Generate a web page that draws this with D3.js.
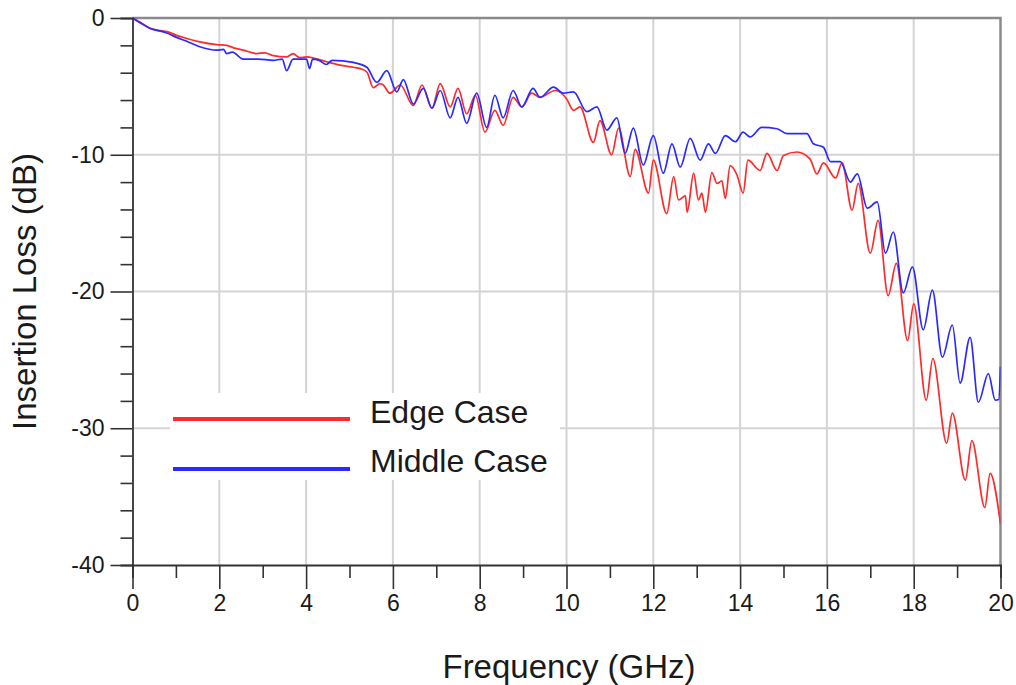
<!DOCTYPE html>
<html><head><meta charset="utf-8">
<script src="https://cdn.jsdelivr.net/npm/d3@7"></script>
<style>
html,body{margin:0;padding:0;background:#fff;}
svg{display:block;font-family:"Liberation Sans",Arial,sans-serif;}
</style></head>
<body>
<svg id="chart" width="1016" height="685"></svg>
<script>
// ---- data ----
const xTicks = [0,2,4,6,8,10,12,14,16,18,20];
const yTicks = [0,-10,-20,-30,-40];
const seriesNames = ["Edge Case","Middle Case"];
const seriesColors = ["#ff2a2a","#2a2aff"];

const edgeFreq = [0,0.2,0.4,0.6,0.8,1.0,1.25,1.55,1.94,2.17,2.35,2.55,2.86,3.05,3.24,3.55,3.7,3.85,4.01,4.2,4.47,4.78,5.09,5.25,5.4,5.55,5.7,5.78,5.93,6.17,6.47,6.67,6.9,7.09,7.32,7.5,7.7,7.9,8.12,8.35,8.54,8.77,8.97,9.2,9.39,9.74,10.0,10.16,10.31,10.62,10.77,11.04,11.2,11.47,11.58,11.89,12.0,12.31,12.47,12.58,12.74,12.78,12.93,13.04,13.12,13.2,13.35,13.47,13.58,13.66,13.77,13.93,14.07,14.18,14.46,14.62,14.85,15.0,15.31,15.61,15.77,15.92,16.2,16.35,16.58,16.72,17.0,17.18,17.41,17.6,17.86,18.0,18.29,18.44,18.76,18.89,19.19,19.34,19.64,19.76,20.0];
const edgeLoss = [0,-0.35,-0.75,-0.9,-1.0,-1.25,-1.5,-1.75,-1.95,-2.0,-2.2,-2.35,-2.6,-2.55,-2.75,-2.85,-2.6,-2.9,-2.85,-2.95,-3.2,-3.45,-3.6,-3.7,-3.95,-5.1,-4.8,-4.9,-5.5,-4.9,-6.4,-4.9,-6.6,-4.8,-6.5,-5.15,-7.0,-5.65,-8.35,-6.75,-7.85,-5.8,-6.5,-5.5,-5.8,-5.3,-5.9,-6.75,-6.5,-9.1,-7.5,-10.0,-8.05,-11.6,-9.6,-12.8,-10.4,-14.3,-11.6,-13.3,-13.0,-14.2,-11.35,-13.3,-12.8,-14.2,-11.3,-12.1,-11.9,-13.2,-10.8,-11.5,-12.8,-10.4,-11.15,-9.9,-11.15,-10.05,-9.8,-10.3,-11.4,-10.6,-11.7,-10.6,-14.05,-12.1,-17.2,-14.8,-20.3,-17.95,-23.6,-20.9,-27.95,-24.9,-31.1,-28.9,-33.8,-30.9,-35.8,-33.3,-37.0];

const middleFreq = [0,0.2,0.4,0.79,1.0,1.25,1.55,1.94,2.1,2.17,2.3,2.55,2.9,3.24,3.45,3.55,3.7,4.01,4.08,4.15,4.3,4.47,4.6,5.09,5.4,5.63,5.86,6.09,6.24,6.47,6.7,6.9,7.09,7.32,7.5,7.7,7.93,8.16,8.35,8.54,8.77,8.97,9.23,9.39,9.7,9.93,10.16,10.47,10.7,10.93,11.16,11.35,11.54,11.77,12.0,12.23,12.43,12.62,12.85,13.08,13.27,13.43,13.66,13.89,14.07,14.23,14.5,14.85,15.08,15.31,15.54,15.69,15.92,16.08,16.31,16.54,16.7,16.93,17.16,17.35,17.53,17.76,17.97,18.22,18.43,18.66,18.89,19.07,19.3,19.49,19.72,19.88,19.96,20.0];
const middleLoss = [0,-0.4,-0.75,-1.1,-1.4,-1.7,-2.1,-2.35,-2.3,-2.6,-2.5,-3.0,-3.0,-3.1,-3.0,-3.85,-3.0,-3.0,-3.7,-3.0,-3.1,-3.4,-3.1,-3.25,-3.6,-4.7,-3.85,-5.4,-4.5,-6.3,-5.15,-6.6,-5.3,-7.3,-5.8,-7.7,-5.5,-8.0,-5.65,-7.3,-5.3,-6.5,-5.15,-5.8,-5.05,-5.5,-5.4,-6.85,-6.5,-8.2,-7.3,-9.9,-8.05,-10.75,-8.6,-11.35,-9.2,-10.9,-8.8,-10.4,-9.2,-9.9,-8.6,-9.05,-8.35,-8.7,-8.0,-8.1,-8.45,-8.45,-8.45,-9.2,-9.45,-10.5,-10.5,-12.0,-11.4,-13.9,-13.45,-17.2,-15.65,-20.1,-18.2,-22.8,-19.9,-24.8,-22.45,-26.7,-23.35,-28.1,-26.0,-27.95,-27.9,-25.5];

// ---- layout ----
const svg = d3.select("#chart");
const L = 132.5, R = 1000.5, T = 18, B = 565;
const x = d3.scaleLinear().domain([0,20]).range([L,R]);
const y = d3.scaleLinear().domain([-40,0]).range([B,T]);
const fmt = d => String(d);

// grid
const grid = svg.append("g").attr("stroke","#d4d4d4").attr("stroke-width",2);
grid.selectAll("line.v").data(xTicks.filter(d=>d>0&&d<20)).join("line")
  .attr("x1",d=>x(d)).attr("x2",d=>x(d)).attr("y1",T).attr("y2",B);
grid.selectAll("line.h").data(yTicks.filter(d=>d<0&&d>-40)).join("line")
  .attr("x1",L).attr("x2",R).attr("y1",d=>y(d)).attr("y2",d=>y(d));

// top & right border
svg.append("path").attr("d",`M${L},${T}H${R}V${B}`).attr("fill","none")
  .attr("stroke","#8a8a8a").attr("stroke-width",2.5);

// clip
svg.append("clipPath").attr("id","clip").append("rect")
  .attr("x",L).attr("y",T-2).attr("width",R-L).attr("height",B-T+4);

const line = d3.line().x(d=>x(d[0])).y(d=>y(d[1])).curve(d3.curveMonotoneX);
const edge = edgeFreq.map((f,i)=>[f,edgeLoss[i]]);
const middle = middleFreq.map((f,i)=>[f,middleLoss[i]]);
const plot = svg.append("g").attr("clip-path","url(#clip)");
plot.append("path").datum(edge).attr("d",line).attr("fill","none")
  .attr("stroke",seriesColors[0]).attr("stroke-width",1.7).attr("stroke-linejoin","round");
plot.append("path").datum(middle).attr("d",line).attr("fill","none")
  .attr("stroke",seriesColors[1]).attr("stroke-width",1.7).attr("stroke-linejoin","round");

// legend
const lg = svg.append("g");
lg.append("rect").attr("x",170).attr("y",393).attr("width",390).attr("height",87).attr("fill","#fff");
[0,1].forEach(i=>{
  const yy = 419 + i*50;
  lg.append("line").attr("x1",173).attr("x2",350).attr("y1",yy).attr("y2",yy)
    .attr("stroke",seriesColors[i]).attr("stroke-width",4);
  lg.append("text").attr("x",370).attr("y",423+i*49).attr("font-size",32)
    .attr("fill","#1a1a1a").text(seriesNames[i]);
});

// axes
svg.append("g").attr("transform",`translate(0,${B})`)
  .call(d3.axisBottom(x).tickValues(d3.range(1,20,2)).tickSize(13).tickFormat(""));
const axXM = svg.append("g").attr("transform",`translate(0,${B})`)
  .call(d3.axisBottom(x).tickValues(xTicks).tickSize(24).tickPadding(6).tickFormat(fmt));
svg.append("g").attr("transform",`translate(${L},0)`)
  .call(d3.axisLeft(y).tickValues(d3.range(-38,0,2).filter(v=>v%10!==0)).tickSize(12).tickFormat(""));
const axY = svg.append("g").attr("transform",`translate(${L},0)`)
  .call(d3.axisLeft(y).tickValues(yTicks).tickSize(22).tickPadding(6).tickFormat(fmt));
svg.selectAll(".domain").attr("stroke","#333").attr("stroke-width",1.8);
svg.selectAll(".tick line").attr("stroke","#333").attr("stroke-width",1.6);
svg.selectAll(".tick text").attr("font-size",23).attr("fill","#1a1a1a")
  .attr("font-family","Liberation Sans, Arial, sans-serif");
axXM.selectAll(".domain").remove();
axY.selectAll(".domain").remove();

// titles
svg.append("text").attr("x",569).attr("y",678).attr("text-anchor","middle")
  .attr("font-size",33).attr("fill","#1a1a1a").text("Frequency (GHz)");
svg.append("text").attr("transform",`translate(36,${(T+B)/2}) rotate(-90)`)
  .attr("text-anchor","middle").attr("font-size",33).attr("fill","#1a1a1a").text("Insertion Loss (dB)");
</script>
</body></html>
